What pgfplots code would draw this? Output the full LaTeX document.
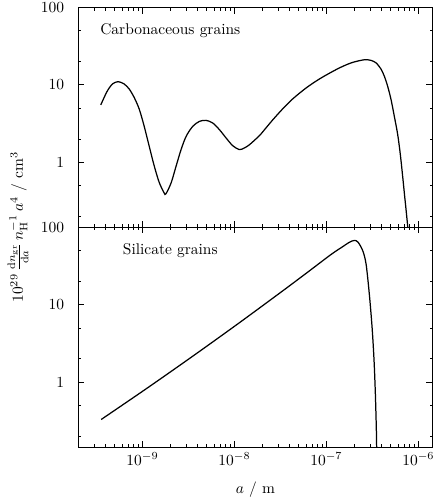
\documentclass[border=0pt]{standalone}
\usepackage{pgfplots}
\pgfplotsset{compat=1.18}
\begin{document}
\begin{tikzpicture}
\begin{axis}[name=toppanel,
    xmode=log, ymode=log,
    scale only axis,
    width=229pt, height=142pt,
    xmin=2e-10, xmax=1.43e-6,
    ymin=0.145, ymax=100,
    xtick={1e-9,1e-8,1e-7,1e-6},
    xticklabels={},
    minor xtick={3e-10,4e-10,5e-10,6e-10,7e-10,8e-10,9e-10,
                 2e-9,3e-9,4e-9,5e-9,6e-9,7e-9,8e-9,9e-9,
                 2e-8,3e-8,4e-8,5e-8,6e-8,7e-8,8e-8,9e-8,
                 2e-7,3e-7,4e-7,5e-7,6e-7,7e-7,8e-7,9e-7},
    ytick={1,10,100},
    yticklabels={1,10,100},
    minor ytick={0.2,0.5,2,5,20,50},
    major tick length=4pt,
    minor tick length=2pt,
    tick align=inside,
    axis line style={line width=0.6pt},
    tick style={black, line width=0.5pt},
    yticklabel style={xshift=-5.5pt},
  ylabel={$10^{29}\,\frac{\mathrm{d}n_{\mathrm{gr}}}{\mathrm{d}a}\,n_{\mathrm{H}}^{-1}\,a^4\ /\ \mathrm{cm}^3$},
  ylabel style={at={(axis description cs:-0.17,0)}, anchor=center}]
\addplot[black, line width=0.8pt, smooth, no markers] coordinates {
(3.52e-10,5.50) (3.84e-10,6.90) (4.17e-10,8.42) (4.72e-10,10.27) (5.44e-10,11.0)
(6.32e-10,10.27) (7.17e-10,8.85) (8.12e-10,6.90) (9.21e-10,4.89) (1.04e-9,2.98)
(1.18e-9,1.64) (1.34e-9,0.907) (1.52e-9,0.552) (1.72e-9,0.403) (1.80e-9,0.392)
(2.05e-9,0.542) (2.32e-9,0.888) (2.63e-9,1.46) (2.99e-9,2.17) (3.52e-9,2.91)
(4.17e-9,3.38) (4.92e-9,3.48) (5.81e-9,3.22) (6.87e-9,2.64) (8.12e-9,2.06)
(9.58e-9,1.64) (1.13e-8,1.46) (1.28e-8,1.53) (1.46e-8,1.69) (1.87e-8,2.21)
(2.21e-8,2.79) (2.61e-8,3.53) (3.35e-8,4.90) (4.30e-8,6.58) (6.02e-8,9.12)
(8.39e-8,11.9) (1.17e-7,14.9) (1.50e-7,17.3) (1.93e-7,19.5) (2.59e-7,21.1)
(3.06e-7,20.7) (3.47e-7,19.2) (3.93e-7,16.0) (4.27e-7,12.9) (4.64e-7,9.57)
(5.05e-7,6.44) (5.48e-7,3.92) (5.96e-7,2.29) (6.37e-7,1.26) (6.75e-7,0.660)
(7.10e-7,0.364) (7.35e-7,0.245) (7.66e-7,0.149) (7.8e-7,0.12)
};
\node[anchor=center] at (axis description cs:0.26,0.895) {Carbonaceous grains};
\end{axis}
\begin{axis}[name=botpanel, at={(toppanel.south west)}, anchor=north west,
    xmode=log, ymode=log,
    scale only axis,
    width=229pt, height=142pt,
    xmin=2e-10, xmax=1.43e-6,
    ymin=0.145, ymax=100,
    xtick={1e-9,1e-8,1e-7,1e-6},
    minor xtick={3e-10,4e-10,5e-10,6e-10,7e-10,8e-10,9e-10,
                 2e-9,3e-9,4e-9,5e-9,6e-9,7e-9,8e-9,9e-9,
                 2e-8,3e-8,4e-8,5e-8,6e-8,7e-8,8e-8,9e-8,
                 2e-7,3e-7,4e-7,5e-7,6e-7,7e-7,8e-7,9e-7},
    ytick={1,10,100},
    yticklabels={1,10,100},
    minor ytick={0.2,0.5,2,5,20,50},
    major tick length=4pt,
    minor tick length=2pt,
    tick align=inside,
    axis line style={line width=0.6pt},
    tick style={black, line width=0.5pt},
    yticklabel style={xshift=-5.5pt},
  xlabel={$a$ / m},
  xlabel style={yshift=-4pt}]
\addplot[black, line width=0.8pt, smooth, no markers] coordinates {
(3.56e-10,0.329) (1.125e-9,0.836) (3.56e-9,2.18) (1.125e-8,5.81) (3.56e-8,15.9)
(6.53e-8,27.3) (1.125e-7,44.5) (1.5e-7,56) (1.78e-7,64) (2.01e-7,67.5)
(2.2e-7,64.5) (2.48e-7,50.1) (2.70e-7,33.6) (2.93e-7,13.7) (3.14e-7,5.1)
(3.30e-7,1.89) (3.41e-7,0.699) (3.49e-7,0.259) (3.52e-7,0.147) (3.54e-7,0.1)
};
\node[anchor=center] at (axis description cs:0.26,0.895) {Silicate grains};
\end{axis}
\pgfresetboundingbox
\path ([xshift=-50.5pt,yshift=4.8pt]toppanel.north west) rectangle ([xshift=1.7pt,yshift=-36.8pt]botpanel.south east);
\end{tikzpicture}
\end{document}
